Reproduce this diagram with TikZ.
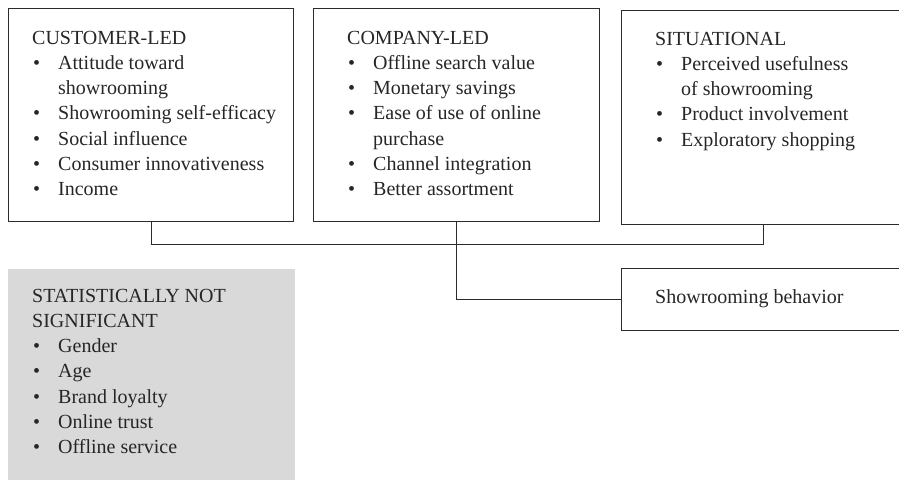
\documentclass[tikz,border=0pt]{standalone}
\usepackage{fontspec}
\setmainfont{Liberation Serif}
\usetikzlibrary{calc}
\newcommand{\rw}[1]{\hbox{#1}}
\newcommand{\bul}[1]{\hbox{\makebox[26pt][l]{\hspace*{1pt}\textbullet}#1}}
\newcommand{\cnt}[1]{\hbox{\hspace*{26pt}#1}}
\newcommand{\lst}[1]{\vtop{\fontsize{20}{25.3}\selectfont\baselineskip=25.3pt\lineskiplimit=-20pt #1}}
\definecolor{boxgray}{HTML}{D9D9D9}
\definecolor{linegray}{HTML}{2B2B2B}
\begin{document}
\begin{tikzpicture}[x=1pt,y=1pt,
  box/.style={draw=linegray, line width=1pt, anchor=north west, inner sep=0pt},
  txt/.style={anchor=base west, inner sep=0pt, text=black!85},
  conn/.style={draw=linegray, line width=1pt}]
\useasboundingbox (0,0) rectangle (899,-479);
\clip (0,0) rectangle (899,-479);
% boxes
\node[box, minimum width=285pt, minimum height=213pt] (b1) at (8,-8) {};
\node[box, minimum width=286pt, minimum height=213pt] (b2) at (313,-8) {};
\node[box, minimum width=284pt, minimum height=214pt] (b3) at (621,-10) {};
\node[box, minimum width=284pt, minimum height=62pt] (sb) at (621,-268) {};
\node[box, draw=none, fill=boxgray, minimum width=287pt, minimum height=220pt] (ns) at (7,-268) {};
% texts
\node[txt] (t1) at (32,-44) {\lst{\rw{CUSTOMER-LED}\bul{Attitude toward}\cnt{showrooming}\bul{Showrooming self-efficacy}\bul{Social influence}\bul{Consumer innovativeness}\bul{Income}}};
\node[txt] (t2) at (347,-44) {\lst{\rw{COMPANY-LED}\bul{Offline search value}\bul{Monetary savings}\bul{Ease of use of online}\cnt{purchase}\bul{Channel integration}\bul{Better assortment}}};
\node[txt] (t3) at (655,-45) {\lst{\rw{SITUATIONAL}\bul{Perceived usefulness}\cnt{of showrooming}\bul{Product involvement}\bul{Exploratory shopping}}};
\node[txt] (t4) at (655,-303) {\lst{\rw{Showrooming behavior}}};
\node[txt] (t5) at (32,-302) {\lst{\rw{STATISTICALLY NOT}\rw{SIGNIFICANT}\bul{Gender}\bul{Age}\bul{Brand loyalty}\bul{Online trust}\bul{Offline service}}};
% connectors
\coordinate (j1) at ($(b1.south)+(0,-22)$);
\draw[conn] (b1.south) |- (b3.south |- j1) -- (b3.south);
\draw[conn] (b2.south) |- (sb.west);
\end{tikzpicture}
\end{document}
